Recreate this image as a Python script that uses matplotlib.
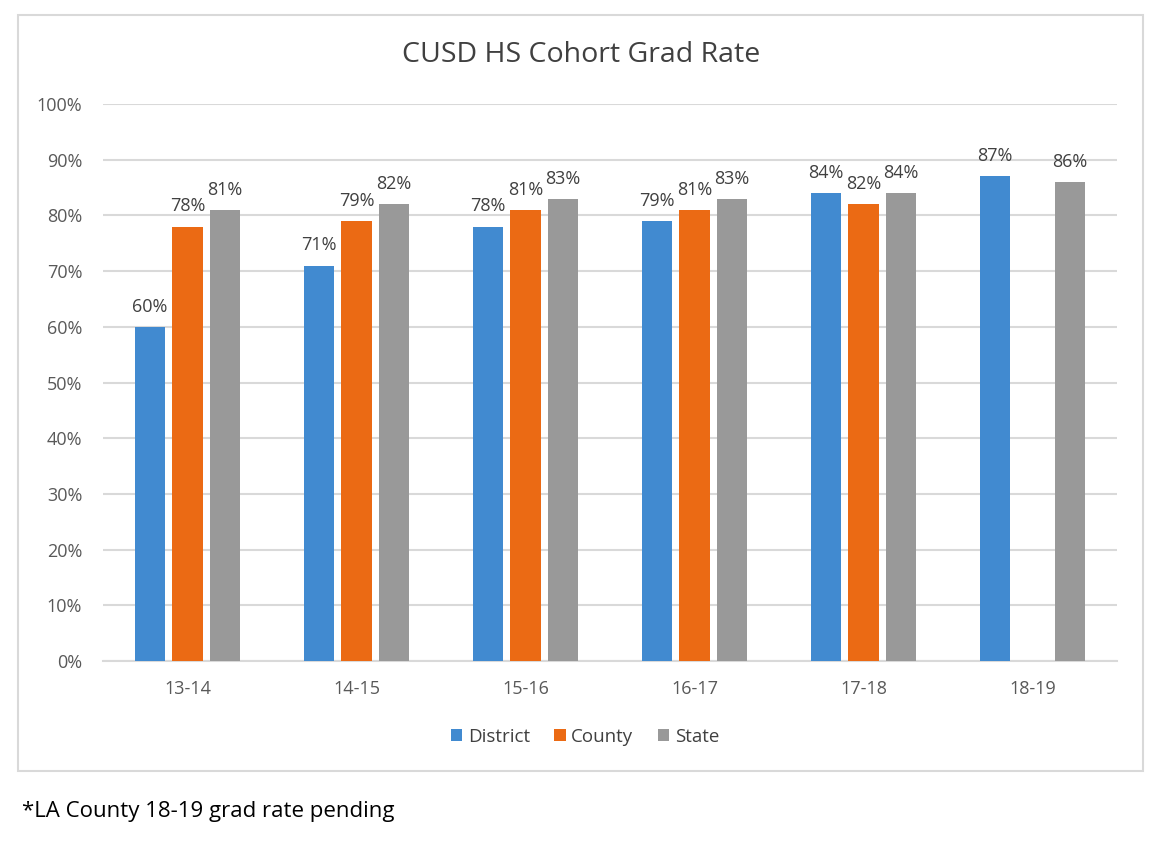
import numpy as np
import matplotlib
matplotlib.use("Agg")
import matplotlib.pyplot as plt
from matplotlib.patches import Rectangle

# chart data
years = ["13-14", "14-15", "15-16", "16-17", "17-18", "18-19"]
district = [60, 71, 78, 79, 84, 87]
county = [78, 79, 81, 81, 82, np.nan]   # 18-19 county pending
state = [81, 82, 83, 83, 84, 86]

series_names = ["District", "County", "State"]
series_colors = ["#418AD0", "#EB6A14", "#999999"]

plt.rcParams["font.family"] = ["Open Sans", "DejaVu Sans"]

fig = plt.figure(figsize=(11.68, 8.42), dpi=100)

# outer chart border
fig.patches.append(Rectangle((18 / 1168, 1 - 771 / 842), 1125 / 1168, 756 / 842,
                             transform=fig.transFigure, fill=False,
                             edgecolor="#D9D9D9", linewidth=1.5))

ax = fig.add_axes([103 / 1168, 1 - 661 / 842, 1014 / 1168, 557 / 842])

x = np.arange(len(years))
width = 0.178
offsets = [-0.222, 0.0, 0.222]

for vals, name, color, off in zip([district, county, state], series_names, series_colors, offsets):
    ax.bar(x + off, vals, width, color=color, label=name, zorder=3)
    for xi, v in zip(x + off, vals):
        if np.isnan(v):
            continue
        ax.annotate(f"{v:.0f}%", (xi, v), xytext=(0, 8), textcoords="offset points",
                    ha="center", va="bottom", fontsize=13, color="#404040")

ax.set_xlim(-0.5, len(years) - 0.5)
ax.set_ylim(0, 100)
ax.set_yticks(np.arange(0, 101, 10))
ax.set_yticklabels([f"{t}%" for t in range(0, 101, 10)])
ax.set_xticks(x)
ax.set_xticklabels(years)
ax.tick_params(axis="both", length=0, labelsize=13, labelcolor="#595959")
ax.tick_params(axis="y", pad=15)
ax.tick_params(axis="x", pad=14)

ax.grid(axis="y", color="#D9D9D9", linewidth=1.5, zorder=0)
for side in ["top", "right", "left"]:
    ax.spines[side].set_visible(False)
ax.spines["bottom"].set_color("#D9D9D9")
ax.spines["bottom"].set_linewidth(1.5)

fig.text(581 / 1168, 1 - 55 / 842, "CUSD HS Cohort Grad Rate", ha="center", va="center",
         fontsize=20.5, color="#404040")

fig.legend(loc="center", bbox_to_anchor=(585 / 1168, 1 - 737 / 842), ncol=3, frameon=False,
           fontsize=13.5, handlelength=0.6, handleheight=0.6, handletextpad=0.3,
           columnspacing=1.3, labelcolor="#404040")

fig.text(22 / 1168, 1 - 812 / 842, "*LA County 18-19 grad rate pending", ha="left", va="center",
         fontsize=16, color="black")

fig.savefig("out.png", dpi=100, facecolor="white")
